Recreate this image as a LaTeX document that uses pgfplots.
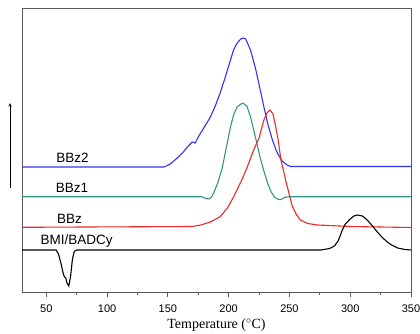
\documentclass[border=0pt]{standalone}
\usepackage{pgfplots}
\pgfplotsset{compat=1.18}
\usepackage{fontspec}
\setmainfont{Liberation Sans}
\newfontfamily\seriffont{Liberation Serif}
\definecolor{cblue}{RGB}{50,50,240}
\definecolor{cgreen}{RGB}{50,150,130}
\definecolor{cred}{RGB}{240,40,40}
\definecolor{caxis}{RGB}{90,90,90}
\begin{document}
\begin{tikzpicture}
\begin{axis}[
  scale only axis, width=389pt, height=284pt,
  xmin=30, xmax=350, ymin=0, ymax=284,
  xtick={50,100,...,350}, minor xtick={75,125,...,325},
  xtick pos=bottom, ytick=\empty,
  tick align=outside, major tick length=4.5pt, minor tick length=3pt,
  axis line style={caxis, line width=1pt},
  every tick/.style={caxis, line width=0.8pt},
  /pgf/number format/assume math mode=true,
  tick label style={font=\fontsize{11}{13}\selectfont},
  xticklabel style={yshift=-5pt},
  xlabel={\seriffont Temperature ($^{\circ}$C)},
  xlabel style={font=\fontsize{14}{16}\selectfont, yshift=1pt},
  clip=false,
  every axis plot/.append style={line width=1.1pt, no marks},
]
\addplot[cblue] coordinates {
(30,125)(147,125)(152,128)(157.7,134)(162,139)(166,145)(170,150)(172.5,149)(175,155)(177,159)(181,167)(185,175)(189,186)(193,199)(197,214)(201,230)(204,242)(207,249)(210,253)(212,254)(214,253)(218,242)(222,224)(226,202)(229,185)(232,169)(236,152)(240,139)(244,131)(248,127)(251,125.5)(350,125.5)};
\addplot[cgreen] coordinates {
(30,95.3)(178,95.3)(181,93.5)(184,93)(186,95)(188,100)(191,109)(194.7,124)(198,144)(201.5,165)(204,177)(207,185)(210,188)(212,188.7)(215,186)(218,175)(221,160)(223.5,147)(226,134)(229,121)(232,109)(235,100)(238,94.5)(241,92.5)(243,92.5)(246,94.5)(249,95.3)(350,95.3)};
\addplot[cred] coordinates {
(30,64.7)(170,65.5)(177,67)(185,70)(193,75.3)(199,84)(204,95)(210,110)(215,124)(219,137)(222,146)(225,154)(229,172)(231.5,179)(234,182)(236.5,178)(238.6,166)(241,150)(243,132)(245.4,120)(247,111)(250,97)(252.3,86)(256,77)(259,72)(265,68.5)(273,67)(300,65.5)(350,64.5)};
\addplot[black] coordinates {
(30,42)(58,42)(60,38)(62,29)(64,18)(65,15)(66,14)(67,9)(68.5,6)(70,16)(71.5,33)(73,40.5)(75,42)(276,42)(283,43.5)(287,46)(290,51)(292,57)(293.5,62)(296,68)(300,73)(303,76)(306,77)(310,76)(314,72)(318,66.5)(322,60.5)(326,55)(330,50.5)(334,47)(339,44)(345,42.5)(350,42)};
\node[font=\fontsize{13.5}{15}\selectfont] at (axis cs:71.6,134) {BBz2};
\node[font=\fontsize{13.5}{15}\selectfont] at (axis cs:71.2,104) {BBz1};
\node[font=\fontsize{13.5}{15}\selectfont] at (axis cs:69.1,73) {BBz};
\node[font=\fontsize{13.5}{15}\selectfont] at (axis cs:74.9,51) {BMI/BADCy};
\draw[-stealth, line width=0.6pt] ([xshift=-12pt]axis cs:30,104) -- ([xshift=-12pt]axis cs:30,189);
\coordinate (sw) at (rel axis cs:0,0);
\coordinate (ne) at (rel axis cs:1,1);
\end{axis}
\pgfresetboundingbox
\path ([shift={(-22pt,-41pt)}]sw) rectangle ([shift={(9pt,8pt)}]ne);
\end{tikzpicture}
\end{document}
